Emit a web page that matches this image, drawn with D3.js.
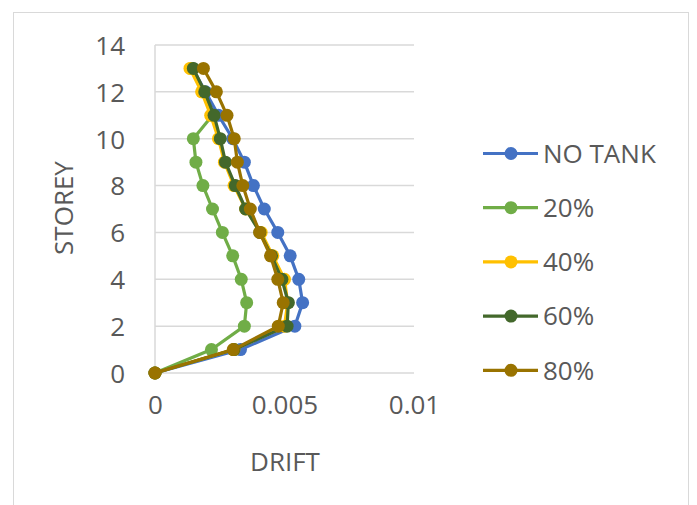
<!DOCTYPE html>
<html>
<head>
<meta charset="utf-8">
<script src="https://cdn.jsdelivr.net/npm/d3@7/dist/d3.min.js"></script>
<style>
  html, body { margin: 0; padding: 0; background: #ffffff; }
  svg { display: block; }
  text { font-family: "Open Sans", "Noto Sans", sans-serif; fill: #595959; }
</style>
</head>
<body>
<svg id="chart" width="697" height="505"></svg>
<script>
// Storey levels (0 = base, 13 = roof)
const storeys = [0, 1, 2, 3, 4, 5, 6, 7, 8, 9, 10, 11, 12, 13];

// Inter-storey drift for each case
const noTank = [0, 0.00330, 0.00540, 0.00570, 0.00555, 0.00522, 0.00474, 0.00422, 0.00380, 0.00345, 0.00300, 0.00245, 0.00195, 0.00145];
const tank20 = [0, 0.00218, 0.00345, 0.00354, 0.00333, 0.00300, 0.00260, 0.00222, 0.00185, 0.00158, 0.00148, 0.00222, 0.00185, 0.00140];
const tank40 = [0, 0.00305, 0.00500, 0.00512, 0.00500, 0.00455, 0.00410, 0.00350, 0.00305, 0.00268, 0.00245, 0.00215, 0.00180, 0.00135];
const tank60 = [0, 0.00305, 0.00510, 0.00515, 0.00490, 0.00450, 0.00405, 0.00350, 0.00310, 0.00272, 0.00252, 0.00228, 0.00192, 0.00148];
const tank80 = [0, 0.00302, 0.00476, 0.00495, 0.00474, 0.00446, 0.00404, 0.00368, 0.00339, 0.00318, 0.00306, 0.00278, 0.00237, 0.00187];

const seriesNames = ["NO TANK", "20%", "40%", "60%", "80%"];
const seriesValues = [noTank, tank20, tank40, tank60, tank80];
const seriesColors = ["#4472C4", "#70AD47", "#FFC000", "#43682B", "#997300"];

const xTicks = [0, 0.005, 0.01];
const xTickLabels = ["0", "0.005", "0.01"];
const yTicks = [0, 2, 4, 6, 8, 10, 12, 14];

const FONT = "'Open Sans', 'Noto Sans', sans-serif";
const svg = d3.select("#chart");

// Outer chart frame
svg.append("rect")
  .attr("x", 13.5).attr("y", 12.5)
  .attr("width", 675).attr("height", 520)
  .attr("fill", "#ffffff")
  .attr("stroke", "#d9d9d9").attr("stroke-width", 1);

const plot = { left: 155, right: 414, top: 45, bottom: 373 };

const x = d3.scaleLinear().domain([0, 0.01]).range([plot.left, plot.right]);
const y = d3.scaleLinear().domain([0, 14]).range([plot.bottom, plot.top]);

// Horizontal gridlines
svg.append("g")
  .selectAll("line")
  .data(yTicks)
  .join("line")
  .attr("x1", plot.left).attr("x2", plot.right)
  .attr("y1", d => y(d)).attr("y2", d => y(d))
  .attr("stroke", "#d9d9d9").attr("stroke-width", 1.5);

// Vertical axis line
svg.append("line")
  .attr("x1", x(0)).attr("x2", x(0))
  .attr("y1", plot.top).attr("y2", plot.bottom)
  .attr("stroke", "#d9d9d9").attr("stroke-width", 1.5);

// Y axis tick labels
const yAxis = d3.axisLeft(y).tickValues(yTicks).tickSize(0).tickPadding(30);
const gy = svg.append("g").attr("transform", `translate(${plot.left},0)`).call(yAxis);
gy.select(".domain").remove();
gy.selectAll("text")
  .style("font-family", FONT)
  .style("font-size", "26px").attr("fill", "#595959")
  .attr("dy", "0.36em");

// X axis tick labels
const xAxis = d3.axisBottom(x).tickValues(xTicks).tickSize(0).tickPadding(32)
  .tickFormat((d, i) => xTickLabels[i]);
const gx = svg.append("g").attr("transform", `translate(0,${plot.bottom})`).call(xAxis);
gx.select(".domain").remove();
gx.selectAll("text")
  .style("font-family", FONT)
  .style("font-size", "26px").attr("fill", "#595959")
  .attr("dy", "0.36em");

// Axis titles
svg.append("text")
  .attr("x", 285).attr("y", 462)
  .attr("dy", "0.36em")
  .attr("text-anchor", "middle")
  .style("font-size", "26px")
  .text("DRIFT");

svg.append("text")
  .attr("transform", "translate(64,208) rotate(-90)")
  .attr("dy", "0.36em")
  .attr("text-anchor", "middle")
  .style("font-size", "26px")
  .text("STOREY");

// Series lines with markers
const line = d3.line()
  .x(d => x(d.v))
  .y(d => y(d.s));

seriesValues.forEach((vals, i) => {
  const pts = storeys.map((s, k) => ({ s: s, v: vals[k] }));
  const g = svg.append("g");
  g.append("path")
    .datum(pts)
    .attr("d", line)
    .attr("fill", "none")
    .attr("stroke", seriesColors[i])
    .attr("stroke-width", 3.2)
    .attr("stroke-linejoin", "round");
  g.selectAll("circle")
    .data(pts)
    .join("circle")
    .attr("cx", d => x(d.v))
    .attr("cy", d => y(d.s))
    .attr("r", 6.5)
    .attr("fill", seriesColors[i]);
});

// Legend
const legendTop = 153.5, legendStep = 54.2;
const legend = svg.append("g");
seriesNames.forEach((name, i) => {
  const ly = legendTop + i * legendStep;
  legend.append("line")
    .attr("x1", 483).attr("x2", 538)
    .attr("y1", ly).attr("y2", ly)
    .attr("stroke", seriesColors[i]).attr("stroke-width", 3.2);
  legend.append("circle")
    .attr("cx", 511).attr("cy", ly).attr("r", 6.5)
    .attr("fill", seriesColors[i]);
  legend.append("text")
    .attr("x", 543).attr("y", ly)
    .attr("dy", "0.36em")
    .style("font-size", "26px")
    .text(name);
});
</script>
</body>
</html>
